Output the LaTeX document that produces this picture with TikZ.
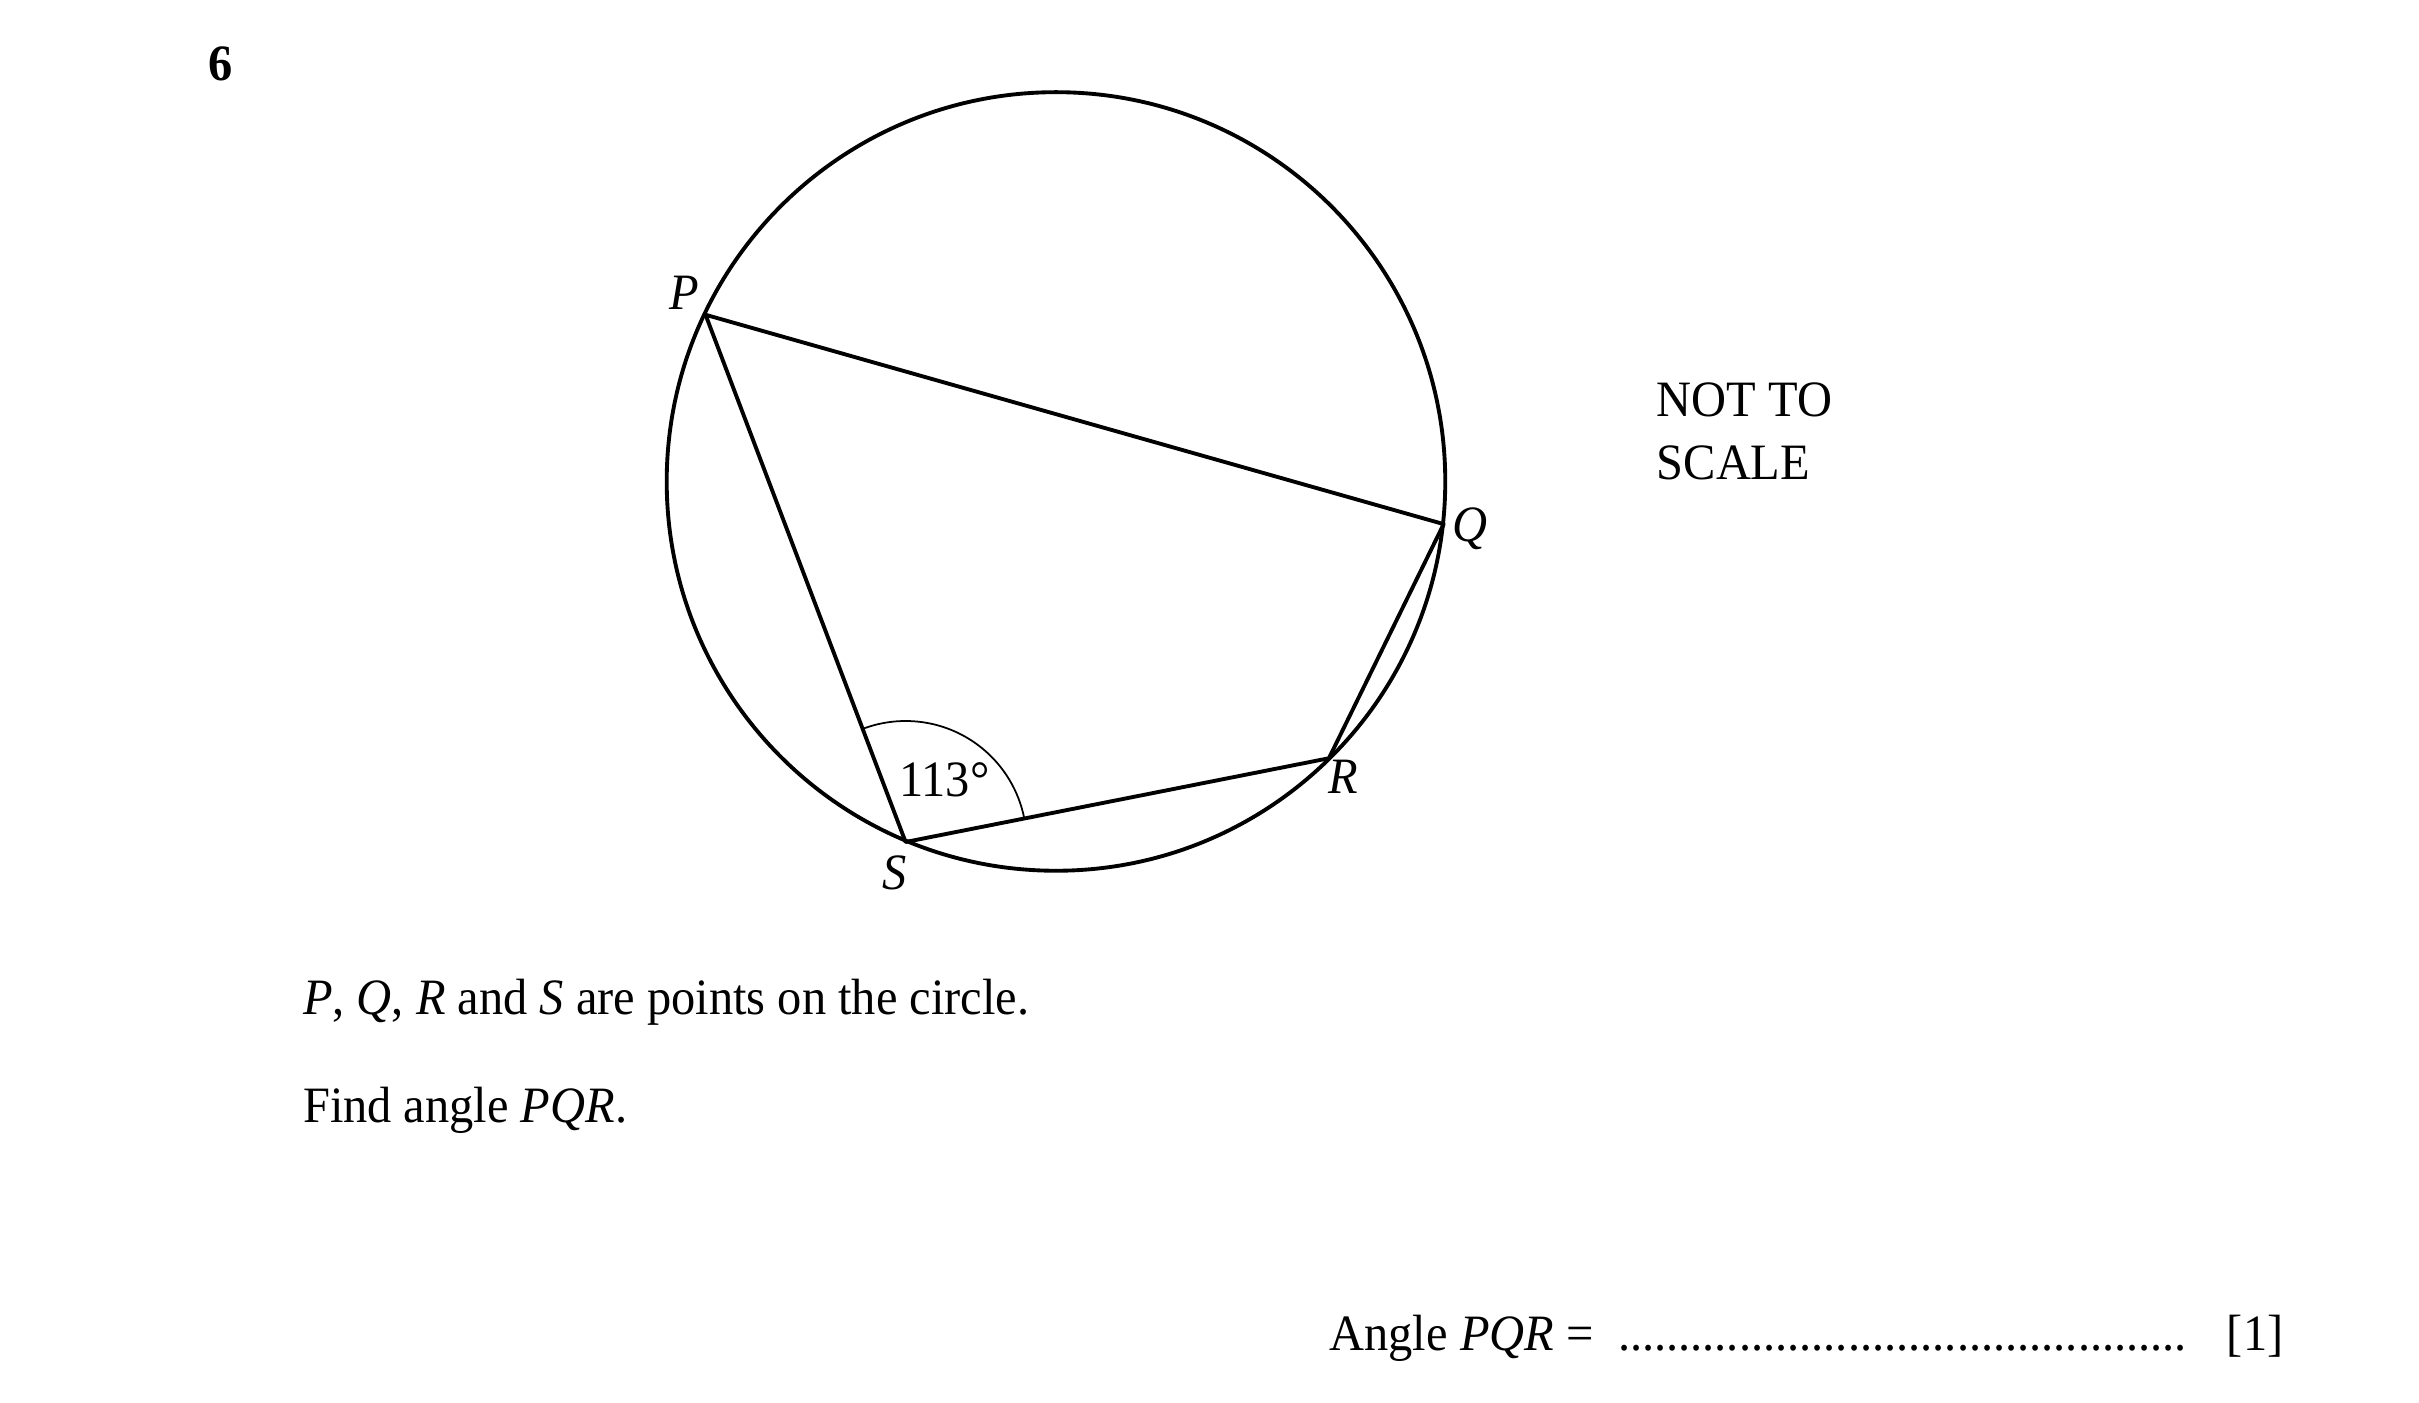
\documentclass[tikz,border=0pt]{standalone}
\usepackage{fontspec}
\setmainfont{Liberation Serif}[FakeStretch=0.95]
\usetikzlibrary{calc}
\begin{document}
\begin{tikzpicture}[x=0.015506cm,y=-0.015506cm,
  main/.style={line width=1.1pt},
  thinarc/.style={line width=0.5pt},
  txt/.style={font=\fontsize{14.5}{16}\selectfont, inner sep=0pt},
  lbl/.style={font=\fontsize{14.5}{16}\selectfont\itshape, inner sep=0pt}]
\useasboundingbox (0,0) rectangle (1560,904.2);
\coordinate (O) at (681,310.5);
\coordinate (P) at (455,203);
\coordinate (Q) at (931,338);
\coordinate (R) at (857,489);
\coordinate (S) at (584,543);
\draw[main] (O) circle [radius=3.892cm];
\draw[main, line join=round] (P) -- (Q) -- (R) -- (S) -- cycle;
\draw[thinarc] ($(S)!1.2095cm!(P)$) arc [start angle=110.8, end angle=11.2, radius=1.2095cm];
\node[lbl] (lP) at (441,189) {P};
\node[lbl] (lQ) at (948,341) {Q};
\node[lbl] (lR) at (866,501) {R};
\node[lbl] (lS) at (577,563) {S};
\node[txt] (ang) at (609,503) {113°};
\node[txt, anchor=base west] (num) at (134,52) {\bfseries 6};
\node[txt, anchor=west, align=left] (nts) at (1068,278) {NOT TO\\[2pt]SCALE};
\node[txt, anchor=base west] (t1) at (195,654) {\textit{P}, \textit{Q}, \textit{R} and \textit{S} are points on the circle.};
\node[txt, anchor=base west] (t2) at (195,724) {Find angle \textit{PQR}.};
\node[txt, anchor=base west] (ans) at (857,871) {Angle \textit{PQR} =};
\node[txt, anchor=base west] (dots) at (1043,871) {...............................................};
\node[txt, anchor=base east] (mark) at (1473,871) {[1]};
\end{tikzpicture}
\end{document}
